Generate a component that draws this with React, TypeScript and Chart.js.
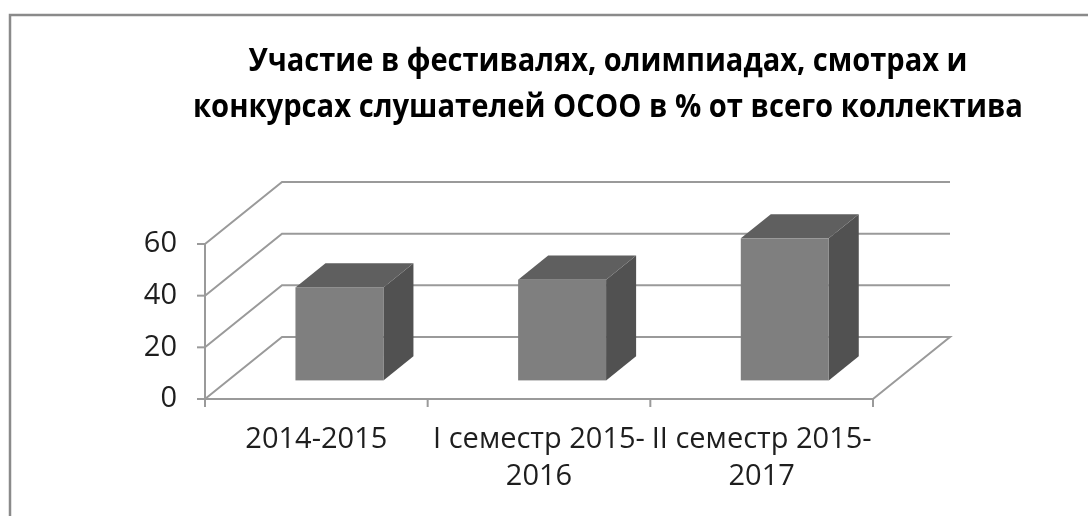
import React, { useEffect, useRef } from 'react';
import { Chart, registerables } from 'chart.js';

Chart.register(...registerables);

// ---- data ----
const categories: string[][] = [
  ['2014-2015'],
  ['I семестр 2015-', '2016'],
  ['II семестр 2015-', '2017'],
];
const values: number[] = [36, 39, 55];
const yMin = 0;
const yMax = 60;
const yStep = 20;
const titleLines: string[] = [
  'Участие в фестивалях, олимпиадах, смотрах и',
  'конкурсах слушателей ОСОО в % от всего коллектива',
];

// ---- style ----
const DEPTH_X = 77;
const DEPTH_Y = -62;
const FRONT_F = 0.3;
const BAR_F = 0.39;
const GRID = '#9a9a9a';
const FRONT = '#7f7f7f';
const TOP = '#5f5f5f';
const SIDE = '#515151';
const FONT = '"Open Sans", "Noto Sans", sans-serif';

const threeD = {
  id: 'threeD',
  beforeDraw(chart: any) {
    const ctx = chart.ctx as CanvasRenderingContext2D;
    ctx.save();
    // outer frame
    ctx.strokeStyle = '#8a8a8a';
    ctx.lineWidth = 2.5;
    ctx.beginPath();
    ctx.moveTo(10, 530);
    ctx.lineTo(10, 15);
    ctx.lineTo(1100, 15);
    ctx.stroke();
    // title
    ctx.fillStyle = '#000';
    ctx.font = 'bold 32px ' + FONT;
    ctx.textAlign = 'center';
    ctx.textBaseline = 'alphabetic';
    const widths = [719, 830];
    const baselines = [71, 117];
    titleLines.forEach((line, i) => {
      const m = ctx.measureText(line).width;
      ctx.save();
      ctx.translate(608, baselines[i]);
      ctx.scale(widths[i] / m, 1);
      ctx.fillText(line, 0, 0);
      ctx.restore();
    });
    ctx.restore();
  },
  beforeDatasetsDraw(chart: any) {
    const ctx = chart.ctx as CanvasRenderingContext2D;
    const ys = chart.scales.y;
    const xs = chart.scales.x;
    const left = xs.left;
    const right = xs.right;
    const y0 = ys.getPixelForValue(yMin);
    const yTop = ys.getPixelForValue(yMax);
    ctx.save();
    ctx.strokeStyle = GRID;
    ctx.lineWidth = 2;
    ctx.lineCap = 'butt';
    ctx.lineJoin = 'miter';
    // walls / gridlines
    ys.ticks.forEach((t: any) => {
      const py = ys.getPixelForValue(t.value);
      ctx.beginPath();
      ctx.moveTo(left, py);
      ctx.lineTo(left + DEPTH_X, py + DEPTH_Y);
      ctx.lineTo(right + DEPTH_X, py + DEPTH_Y);
      if (t.value === yMin) {
        ctx.lineTo(right, y0);
      }
      ctx.stroke();
    });
    // y axis
    ctx.beginPath();
    ctx.moveTo(left, yTop);
    ctx.lineTo(left, y0 + 8);
    ctx.stroke();
    ys.ticks.forEach((t: any) => {
      const py = ys.getPixelForValue(t.value);
      ctx.beginPath();
      ctx.moveTo(left - 8, py);
      ctx.lineTo(left, py);
      ctx.stroke();
    });
    // x axis
    ctx.beginPath();
    ctx.moveTo(left, y0);
    ctx.lineTo(right, y0);
    ctx.stroke();
    const n = categories.length;
    for (let i = 0; i <= n; i++) {
      const px = left + (i * (right - left)) / n;
      ctx.beginPath();
      ctx.moveTo(px, y0);
      ctx.lineTo(px, y0 + 8);
      ctx.stroke();
    }
    ctx.restore();
  },
  afterDatasetsDraw(chart: any) {
    const ctx = chart.ctx as CanvasRenderingContext2D;
    const meta = chart.getDatasetMeta(0);
    const fx = DEPTH_X * FRONT_F;
    const fy = DEPTH_Y * FRONT_F;
    const bx = DEPTH_X * BAR_F;
    const by = DEPTH_Y * BAR_F;
    ctx.save();
    meta.data.forEach((el: any) => {
      const { x, y, base, width } = el.getProps(['x', 'y', 'base', 'width'], true);
      const x0 = x - width / 2 + fx;
      const x1 = x + width / 2 + fx;
      const top = y + fy;
      const bot = base + fy;
      // side
      ctx.fillStyle = SIDE;
      ctx.beginPath();
      ctx.moveTo(x1, top);
      ctx.lineTo(x1 + bx, top + by);
      ctx.lineTo(x1 + bx, bot + by);
      ctx.lineTo(x1, bot);
      ctx.closePath();
      ctx.fill();
      // top
      ctx.fillStyle = TOP;
      ctx.beginPath();
      ctx.moveTo(x0, top);
      ctx.lineTo(x0 + bx, top + by);
      ctx.lineTo(x1 + bx, top + by);
      ctx.lineTo(x1, top);
      ctx.closePath();
      ctx.fill();
      // front
      ctx.fillStyle = FRONT;
      ctx.fillRect(x0, top, x1 - x0, bot - top);
    });
    ctx.restore();
  },
};

export default function App() {
  const ref = useRef<HTMLCanvasElement | null>(null);
  useEffect(() => {
    if (!ref.current) return;
    const chart = new Chart(ref.current, {
      type: 'bar',
      data: {
        labels: categories,
        datasets: [
          {
            data: values,
            backgroundColor: 'rgba(0,0,0,0)',
            borderWidth: 0,
            categoryPercentage: 1,
            barPercentage: 0.395,
          },
        ],
      },
      options: {
        responsive: false,
        animation: false,
        events: [],
        layout: { padding: { top: 244, right: 215, bottom: 0, left: 0 } },
        plugins: {
          legend: { display: false },
          title: { display: false },
          tooltip: { enabled: false },
        },
        scales: {
          x: {
            offset: true,
            grid: { display: false, drawTicks: false },
            border: { display: false },
            ticks: {
              autoSkip: false,
              maxRotation: 0,
              minRotation: 0,
              padding: 22,
              color: '#1e1e1e',
              font: { family: FONT, size: 29, lineHeight: 1.276 },
            },
            afterFit: (s: any) => {
              s.height = 117;
            },
          },
          y: {
            min: yMin,
            max: yMax,
            grid: { display: false, drawTicks: false },
            border: { display: false },
            ticks: {
              stepSize: yStep,
              padding: 28,
              color: '#1e1e1e',
              font: { family: FONT, size: 29 },
            },
            afterFit: (s: any) => {
              s.width = 205;
            },
          },
        },
      },
      plugins: [threeD],
    });
    return () => chart.destroy();
  }, []);
  return (
    <div style={{ position: 'fixed', left: 0, top: 0, width: 1088, height: 516, background: '#fff' }}>
      <canvas ref={ref} width={1088} height={516} style={{ display: 'block' }} />
    </div>
  );
}
